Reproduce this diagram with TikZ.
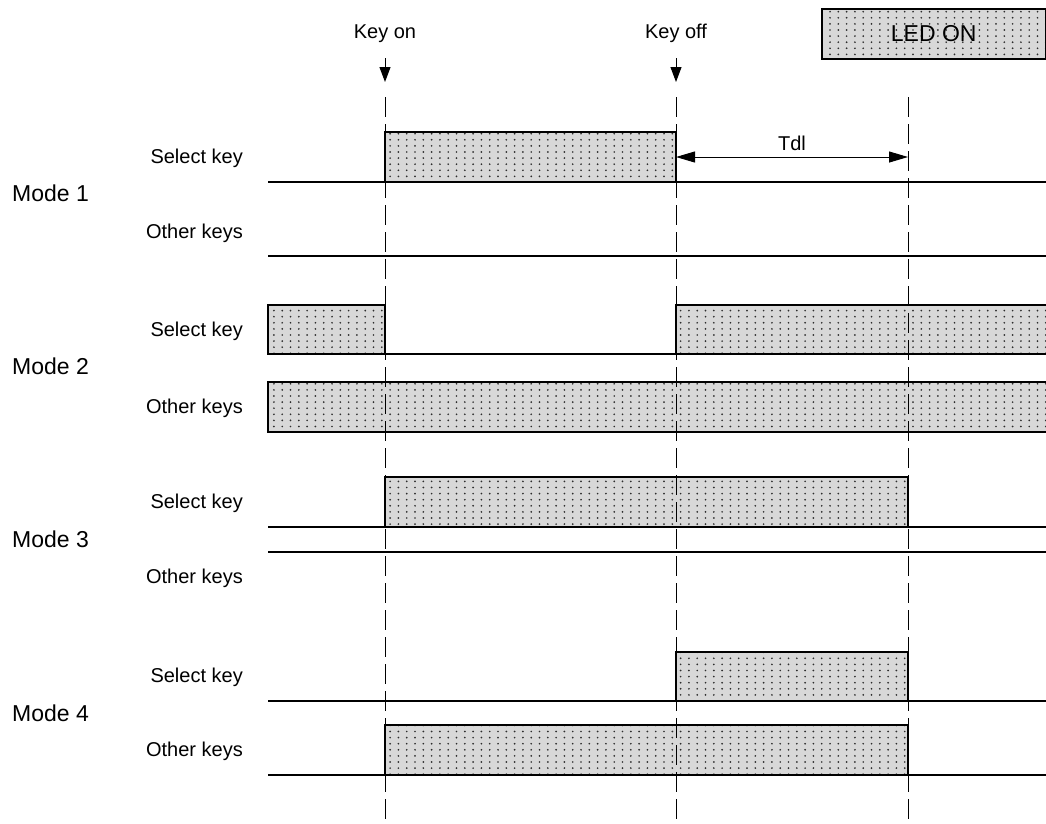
\documentclass[tikz,border=0pt]{standalone}
\usepackage{fontspec}
\setmainfont{Liberation Sans}
\usetikzlibrary{positioning,arrows.meta,patterns.meta}
\definecolor{ledgray}{RGB}{216,216,216}
\definecolor{dotgray}{RGB}{45,45,45}
\tikzdeclarepattern{
name=leddots,
type=uncolored,
bottom left={(-1.2pt,-1.2pt)},
top right={(9pt,7pt)},
tile size={(8.3pt,6.1pt)},
code={\fill (0pt,0pt) circle (0.95pt);}
}
\tikzset{
ledon/.style={
draw,
line width=1.5pt,
preaction={fill=ledgray},
pattern=leddots,
pattern color=dotgray
},
level/.style={
line width=1.8pt
},
timeline/.style={
line width=0.9pt,
dash pattern=on 20pt off 7pt
},
keyarrow/.style={
-{Triangle[length=15pt,width=11pt]},
line width=1pt
},
dimarrow/.style={
{Triangle[length=19pt,width=11pt]}-{Triangle[length=19pt,width=11pt]},
line width=1pt
},
lbl/.style={
inner sep=0pt,
font=\fontsize{20pt}{24pt}\selectfont
},
modelbl/.style={
inner sep=0pt,
anchor=base west,
font=\fontsize{23pt}{27pt}\selectfont
}
}
\begin{document}
\begin{tikzpicture}[x=1pt,y=-1pt]
\useasboundingbox (0,0) rectangle (1046,823);

% legend
\node[ledon,anchor=north west,minimum width=224pt,minimum height=50pt,
font=\fontsize{23pt}{27pt}\selectfont](legend) at (821,8){LED ON};

% key events
\node[lbl,anchor=base](keyon) at (385,38){Key on};
\node[lbl,anchor=base](keyoff) at (676,38){Key off};
\coordinate (onA) at (385,58);
\coordinate (onB) at (385,82);
\coordinate (offA) at (676,58);
\coordinate (offB) at (676,82);
\draw[keyarrow](onA)--(onB);
\draw[keyarrow](offA)--(offB);

% mode 1
\draw[ledon](385,132) rectangle (676,182);
\draw[level](268,182)--(1046,182);
\draw[level](268,256)--(1046,256);

% mode 2
\draw[ledon](268,305) rectangle (385,354);
\draw[ledon](676,305) rectangle (1047,354);
\draw[level](385,354)--(676,354);
\draw[ledon](268,382) rectangle (1047,432);

% mode 3
\draw[ledon](385,477) rectangle (908,527);
\draw[level](268,527)--(1046,527);
\draw[level](268,552)--(1046,552);

% mode 4
\draw[ledon](676,652) rectangle (908,701);
\draw[level](268,701)--(1046,701);
\draw[ledon](385,725) rectangle (908,775);
\draw[level](268,775)--(1046,775);

% event lines
\coordinate (on) at (385,97);
\coordinate (off) at (676,97);
\coordinate (dl) at (908,97);
\draw[timeline](on)--(385,823);
\draw[timeline](off)--(676,823);
\draw[timeline](dl)--(908,823);

% delay
\coordinate (tdlA) at (676,157);
\coordinate (tdlB) at (908,157);
\draw[dimarrow](tdlA)--(tdlB);
\node[lbl,anchor=base](tdl) at (792,150){Tdl};

% row labels
\node[lbl,anchor=base east](sel1) at (243,163){Select key};
\node[lbl,anchor=base east](oth1) at (243,238){Other keys};
\node[modelbl](mode1) at (12,201){Mode 1};

\node[lbl,anchor=base east](sel2) at (243,336){Select key};
\node[lbl,anchor=base east](oth2) at (243,413){Other keys};
\node[modelbl](mode2) at (12,374){Mode 2};

\node[lbl,anchor=base east](sel3) at (243,508){Select key};
\node[lbl,anchor=base east](oth3) at (243,583){Other keys};
\node[modelbl](mode3) at (12,547){Mode 3};

\node[lbl,anchor=base east](sel4) at (243,682){Select key};
\node[lbl,anchor=base east](oth4) at (243,756){Other keys};
\node[modelbl](mode4) at (12,721){Mode 4};

\end{tikzpicture}
\end{document}
